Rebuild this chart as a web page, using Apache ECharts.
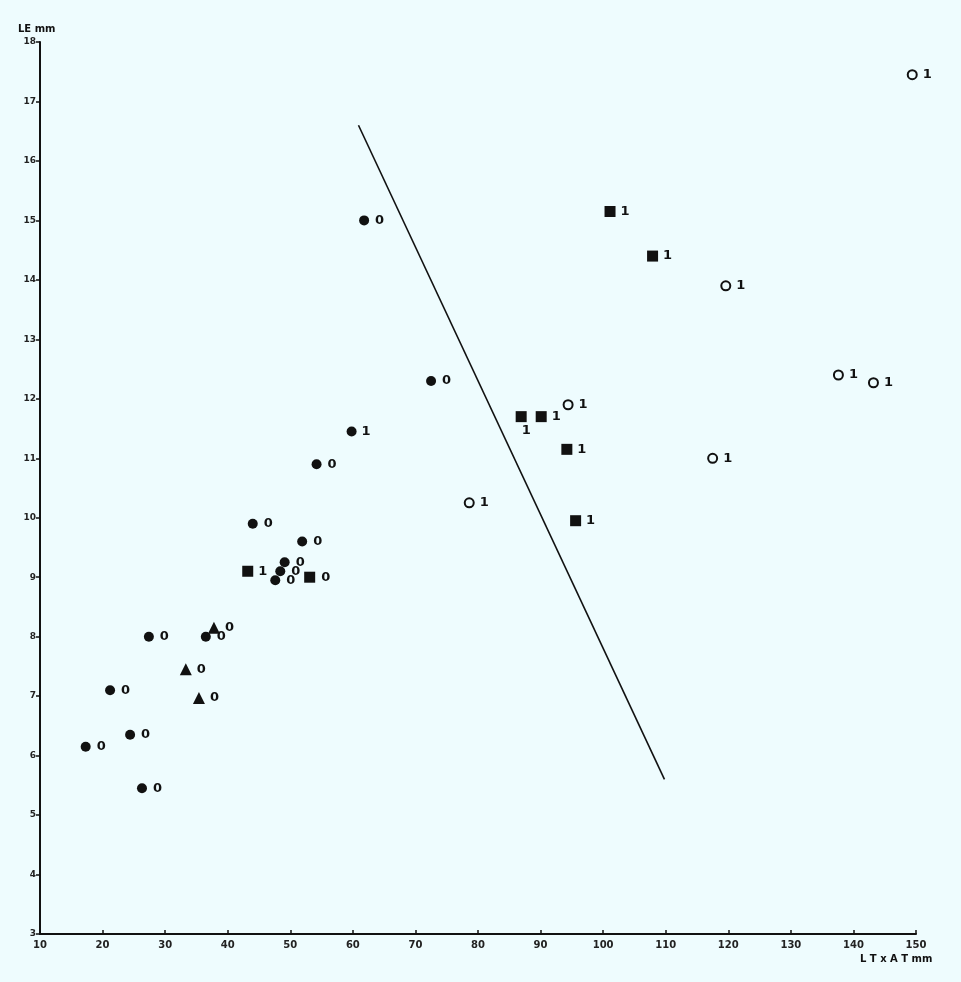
<!DOCTYPE html>
<html>
<head>
<meta charset="utf-8">
<script src="https://cdn.jsdelivr.net/npm/echarts@6/dist/echarts.min.js"></script>
<style>
html,body{margin:0;padding:0;background:#eefcfe;}
#chart{width:961px;height:982px;}
</style>
</head>
<body>
<div id="chart"></div>
<script>
// Data: [LT x AT, LE]
const filledCircle0 = [[61.8,15.0],[72.5,12.3],[54.2,10.9],[44.0,9.9],[51.9,9.6],[49.1,9.25],[48.4,9.1],[47.6,8.95],[27.4,8.0],[36.5,8.0],[21.2,7.1],[24.4,6.35],[17.3,6.15],[26.3,5.45]];
const filledCircle1 = [[59.8,11.45]];
const square0 = [[53.1,9.0]];
const square1 = [[43.2,9.1],[86.9,11.7],[90.1,11.7],[94.2,11.15],[95.6,9.95],[101.1,15.15],[107.9,14.4]];
const triangle0 = [[37.8,8.15],[33.3,7.45],[35.4,6.97]];
const openCircle1 = [[149.4,17.45],[119.6,13.9],[137.6,12.4],[143.2,12.27],[94.4,11.9],[78.6,10.25],[117.5,11.0]];
const dividingLine = [[60.9,16.6],[109.8,5.6]];
const xTicks = {min:10, max:150, interval:10};
const yTicks = {min:3, max:18, interval:1};
const yName = 'LE mm';
const xName = 'L T x A T mm';

const ink = '#111';
const bg = '#eefcfe';
const labelFont = {color: ink, fontSize: 13, fontWeight: 'bold', fontFamily: 'DejaVu Sans', opacity: 1};

function mkLabel(text, dist){
  return Object.assign({show:true, position:'right', distance: dist, formatter: text}, labelFont);
}
const solid = {color: ink, opacity: 1};

const chart = echarts.init(document.getElementById('chart'));
chart.setOption({
  backgroundColor: bg,
  animation: false,
  grid: {left: 40, right: 45, top: 42, bottom: 48},
  xAxis: {
    type: 'value', min: xTicks.min, max: xTicks.max, interval: xTicks.interval,
    axisLine: {lineStyle: {color: ink, width: 2}},
    axisTick: {show: true, inside: true, length: 4, lineStyle: {color: ink, width: 1.5}},
    axisLabel: {color: '#222', fontSize: 10, fontWeight: 'bold', margin: 6, fontFamily: 'DejaVu Sans'},
    splitLine: {show: false}
  },
  yAxis: {
    type: 'value', min: yTicks.min, max: yTicks.max, interval: yTicks.interval,
    axisLine: {show: true, lineStyle: {color: ink, width: 2}},
    axisTick: {show: true, length: 4, lineStyle: {color: ink, width: 1.5}},
    axisLabel: {color: '#222', fontSize: 9, fontWeight: 'bold', margin: 4, fontFamily: 'DejaVu Sans'},
    splitLine: {show: false}
  },
  graphic: [
    {type: 'text', left: 18, top: 24, style: {text: yName, fill: ink, fontSize: 10, fontWeight: 'bold', fontFamily: 'DejaVu Sans'}},
    {type: 'text', left: 860, top: 954, style: {text: xName, fill: ink, fontSize: 10, fontWeight: 'bold', fontFamily: 'DejaVu Sans'}}
  ],
  series: [
    {type: 'line', data: dividingLine, symbol: 'none', lineStyle: {color: ink, width: 1.6}, z: 1},
    {type: 'scatter', data: filledCircle0, symbol: 'circle', symbolSize: 10, itemStyle: solid, label: mkLabel('0', 6)},
    {type: 'scatter', data: filledCircle1, symbol: 'circle', symbolSize: 10, itemStyle: solid, label: mkLabel('1', 5)},
    {type: 'scatter', data: square0, symbol: 'rect', symbolSize: 11, itemStyle: solid, label: mkLabel('0', 6)},
    {type: 'scatter', data: square1.map((d, i) => i === 1 ? {value: d, label: {position: 'bottom', distance: 2, offset: [5, 0]}} : d),
      symbol: 'rect', symbolSize: 11, itemStyle: solid, label: mkLabel('1', 5)},
    {type: 'scatter', data: triangle0, symbol: 'triangle', symbolSize: 12, itemStyle: solid, label: mkLabel('0', 5)},
    {type: 'scatter', data: openCircle1, symbol: 'circle', symbolSize: 9, itemStyle: {color: bg, borderColor: ink, borderWidth: 2, opacity: 1}, label: mkLabel('1', 5)}
  ]
});
</script>
</body>
</html>
